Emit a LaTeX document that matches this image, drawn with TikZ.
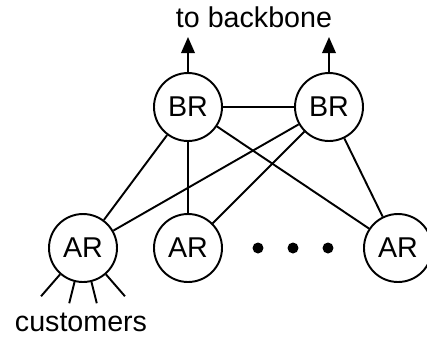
\documentclass[tikz,border=0pt]{standalone}
\usepackage{fontspec}
\setmainfont{Liberation Sans}
\usetikzlibrary{arrows.meta}
\begin{document}
\begin{tikzpicture}[x=0.02cm,y=-0.02cm,line width=1.1pt,
  router/.style={circle,draw,minimum size=1.36cm,inner sep=0pt,font=\fontsize{16.3}{19}\selectfont},
  lbl/.style={font=\fontsize{16.3}{19}\selectfont,inner sep=0pt,anchor=base},
  up/.style={-{Triangle[length=0.32cm,width=0.27cm]}},
  dot/.style={circle,fill,minimum size=0.22cm,inner sep=0pt}]
\useasboundingbox (0,0) rectangle (427,339);
\node[router] (br1) at (188,107) {BR};
\node[router] (br2) at (329,107) {BR};
\node[router] (ar1) at (83,248) {AR};
\node[router] (ar2) at (188,248) {AR};
\node[router] (ar3) at (398,248) {AR};
\node[dot] (d1) at (258,248) {};
\node[dot] (d2) at (293,248) {};
\node[dot] (d3) at (328,248) {};
\node[lbl] (tb) at (254,27) {to backbone};
\node[lbl] (cu) at (81,331) {customers};
\coordinate (t1) at (188,37);
\coordinate (t2) at (329,37);
\draw[up] (br1.north) -- (t1);
\draw[up] (br2.north) -- (t2);
\draw (br1) -- (br2);
\draw (br1) -- (ar1);
\draw (br1) -- (ar2);
\draw (br1) -- (ar3);
\draw (br2) -- (ar1);
\draw (br2) -- (ar2);
\draw (br2) -- (ar3);
\foreach \a/\l in {229/63,256/56,284/56,311/63}{
  \draw (ar1.\a) -- ++(\a:{(\l-34)*0.02cm});
}
\end{tikzpicture}
\end{document}
